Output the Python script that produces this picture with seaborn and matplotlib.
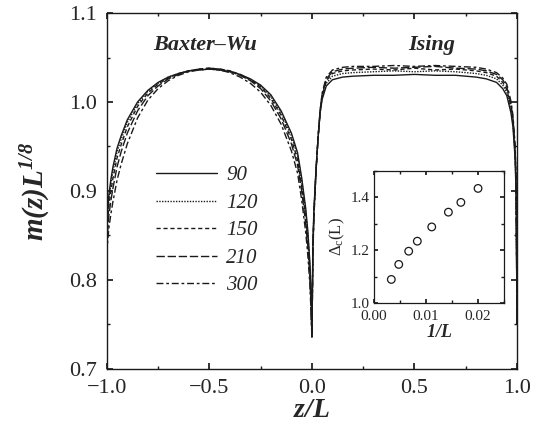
import numpy as np
import seaborn as sns
import matplotlib.pyplot as plt
from matplotlib.ticker import MultipleLocator

# z/L positions (Baxter-Wu half, then Ising half)
z = [-1.0, -0.995, -0.99, -0.98, -0.97, -0.95, -0.93, -0.9, -0.85, -0.8, -0.75,
     -0.7, -0.65, -0.6, -0.55, -0.5, -0.45, -0.4, -0.35, -0.3, -0.25, -0.2,
     -0.15, -0.1, -0.07, -0.05, -0.03, -0.02, -0.01, -0.005, 0.0,
     0.0, 0.005, 0.01, 0.02, 0.03, 0.04, 0.05, 0.07, 0.1, 0.15, 0.2, 0.3, 0.4,
     0.5, 0.6, 0.7, 0.8, 0.85, 0.9, 0.93, 0.95, 0.97, 0.98, 0.99, 0.995, 1.0]

m90 = [0.86, 0.88, 0.895, 0.913, 0.927, 0.948, 0.962, 0.980, 1.000, 1.013, 1.022,
       1.028, 1.032, 1.035, 1.036, 1.037, 1.036, 1.034, 1.031, 1.026, 1.019, 1.008,
       0.990, 0.965, 0.943, 0.915, 0.880, 0.855, 0.820, 0.790, 0.740,
       0.740, 0.845, 0.880, 0.925, 0.960, 0.988, 1.003, 1.018, 1.025, 1.028, 1.029,
       1.030, 1.030, 1.031, 1.030, 1.030, 1.028, 1.026, 1.022, 1.015, 1.007, 0.988,
       0.972, 0.938, 0.900, 0.750]
m120 = [0.855, 0.875, 0.89, 0.908, 0.922, 0.944, 0.958, 0.977, 0.998, 1.012, 1.021,
        1.028, 1.032, 1.035, 1.036, 1.037, 1.036, 1.034, 1.030, 1.025, 1.018, 1.006,
        0.988, 0.962, 0.940, 0.912, 0.876, 0.851, 0.815, 0.785, 0.738,
        0.738, 0.840, 0.878, 0.924, 0.960, 0.988, 1.005, 1.021, 1.029, 1.032, 1.033,
        1.034, 1.035, 1.034, 1.035, 1.034, 1.032, 1.030, 1.026, 1.019, 1.011, 0.992,
        0.976, 0.942, 0.905, 0.750]
m150 = [0.85, 0.868, 0.883, 0.900, 0.914, 0.937, 0.952, 0.972, 0.995, 1.010, 1.020,
        1.027, 1.032, 1.035, 1.037, 1.038, 1.037, 1.035, 1.031, 1.025, 1.017, 1.004,
        0.985, 0.958, 0.935, 0.906, 0.870, 0.845, 0.810, 0.780, 0.737,
        0.737, 0.838, 0.876, 0.923, 0.960, 0.989, 1.007, 1.024, 1.032, 1.035, 1.036,
        1.037, 1.036, 1.038, 1.036, 1.037, 1.035, 1.033, 1.029, 1.022, 1.014, 0.995,
        0.979, 0.946, 0.910, 0.750]
m210 = [0.84, 0.857, 0.872, 0.889, 0.903, 0.927, 0.944, 0.965, 0.990, 1.007, 1.018,
        1.026, 1.031, 1.035, 1.037, 1.038, 1.037, 1.035, 1.030, 1.024, 1.015, 1.001,
        0.981, 0.953, 0.929, 0.900, 0.863, 0.838, 0.803, 0.775, 0.736,
        0.736, 0.835, 0.874, 0.922, 0.960, 0.990, 1.009, 1.026, 1.034, 1.037, 1.038,
        1.039, 1.038, 1.039, 1.040, 1.038, 1.037, 1.035, 1.031, 1.025, 1.017, 0.998,
        0.982, 0.950, 0.915, 0.750]
m300 = [0.83, 0.845, 0.858, 0.874, 0.888, 0.912, 0.930, 0.953, 0.982, 1.002, 1.015,
        1.024, 1.030, 1.034, 1.036, 1.037, 1.036, 1.033, 1.028, 1.021, 1.011, 0.996,
        0.975, 0.945, 0.920, 0.890, 0.853, 0.828, 0.795, 0.768, 0.735,
        0.735, 0.832, 0.872, 0.921, 0.960, 0.991, 1.010, 1.028, 1.036, 1.039, 1.040,
        1.040, 1.041, 1.040, 1.041, 1.040, 1.039, 1.037, 1.033, 1.027, 1.020, 1.001,
        0.985, 0.953, 0.920, 0.750]

sizes = ['90', '120', '150', '210', '300']
curves = [m90, m120, m150, m210, m300]

# inset: Delta_c(L) against 1/L
inv_L = [0.00333, 0.00476, 0.00667, 0.00833, 0.0111, 0.0143, 0.0167, 0.0200]
delta_c = [1.089, 1.146, 1.196, 1.234, 1.288, 1.344, 1.381, 1.434]

sns.set_theme(style='ticks')
plt.rcParams['font.family'] = ['Liberation Serif', 'DejaVu Serif']
plt.rcParams['mathtext.fontset'] = 'custom'
plt.rcParams['mathtext.it'] = 'Liberation Serif:italic'
plt.rcParams['mathtext.bfit'] = 'Liberation Serif:italic:bold'
plt.rcParams['mathtext.rm'] = 'Liberation Serif'

fig = plt.figure(figsize=(5.42, 4.34), dpi=100)
ax = fig.add_axes([0.197, 0.150, 0.757, 0.820])

dashes = ['-', (0, (1, 1)), (0, (3, 2)), (0, (6, 2)), (0, (5, 2, 2, 2))]
for lab, vals, ls in zip(sizes, curves, dashes):
    sns.lineplot(x=z, y=vals, ax=ax, color='k', linewidth=1.0, linestyle=ls,
                 estimator=None, sort=False, label=lab)

ax.set_xlim(-1.0, 1.0)
ax.set_ylim(0.7, 1.1)
ax.xaxis.set_major_locator(MultipleLocator(0.5))
ax.xaxis.set_minor_locator(MultipleLocator(0.25))
ax.yaxis.set_major_locator(MultipleLocator(0.1))
ax.yaxis.set_minor_locator(MultipleLocator(0.05))
ax.tick_params(which='both', direction='in', top=True, right=True, color='k')
ax.tick_params(which='major', length=4, labelsize=16, pad=7)
ax.tick_params(which='minor', length=2.5)
for s in ax.spines.values():
    s.set_color('k')
    s.set_linewidth(1.0)

ax.set_xlabel(r'$\mathbfit{z/L}$', fontsize=20, labelpad=0)
ax.set_ylabel(r'$\mathbfit{m(z)L}^{\mathbfit{1/8}}$', fontsize=21, labelpad=12)

ax.text(-0.52, 1.064, 'Baxter\u2013Wu', fontsize=16, fontstyle='italic',
        fontweight='bold', ha='center', va='center')
ax.text(0.585, 1.064, 'Ising', fontsize=16, fontstyle='italic',
        fontweight='bold', ha='center', va='center')

leg = ax.legend(loc='upper left', bbox_to_anchor=(0.095, 0.60), frameon=False,
                handlelength=2.9, handletextpad=0.45, labelspacing=0.38,
                borderpad=0, prop={'family': 'Liberation Serif', 'style': 'italic',
                                   'size': 15})

# inset
ins = fig.add_axes([0.690, 0.302, 0.240, 0.304])
sns.scatterplot(x=inv_L, y=delta_c, ax=ins, s=30, facecolor='none',
                edgecolor='k', linewidth=0.9)
ins.set_xlim(0.0, 0.025)
ins.set_ylim(1.0, 1.5)
ins.xaxis.set_major_locator(MultipleLocator(0.01))
ins.xaxis.set_minor_locator(MultipleLocator(0.005))
ins.yaxis.set_major_locator(MultipleLocator(0.2))
ins.yaxis.set_minor_locator(MultipleLocator(0.1))
ins.tick_params(which='both', direction='in', top=True, right=True, color='k')
ins.tick_params(which='major', length=3, labelsize=11)
ins.tick_params(axis='x', pad=5)
ins.tick_params(axis='y', pad=3)
ins.tick_params(which='minor', length=2)
ins.xaxis.set_major_formatter(plt.FuncFormatter(lambda v, p: f'{v:.2f}'))
ins.yaxis.set_major_formatter(plt.FuncFormatter(lambda v, p: f'{v:.1f}'))
for s in ins.spines.values():
    s.set_color('k')
    s.set_linewidth(0.9)
ins.set_xlabel(r'$\mathbfit{1/L}$', fontsize=13, labelpad=1)
ins.set_ylabel(r'$\mathrm{\Delta_c(L)}$', fontsize=12, labelpad=3)

fig.savefig('out.png', dpi=100)
